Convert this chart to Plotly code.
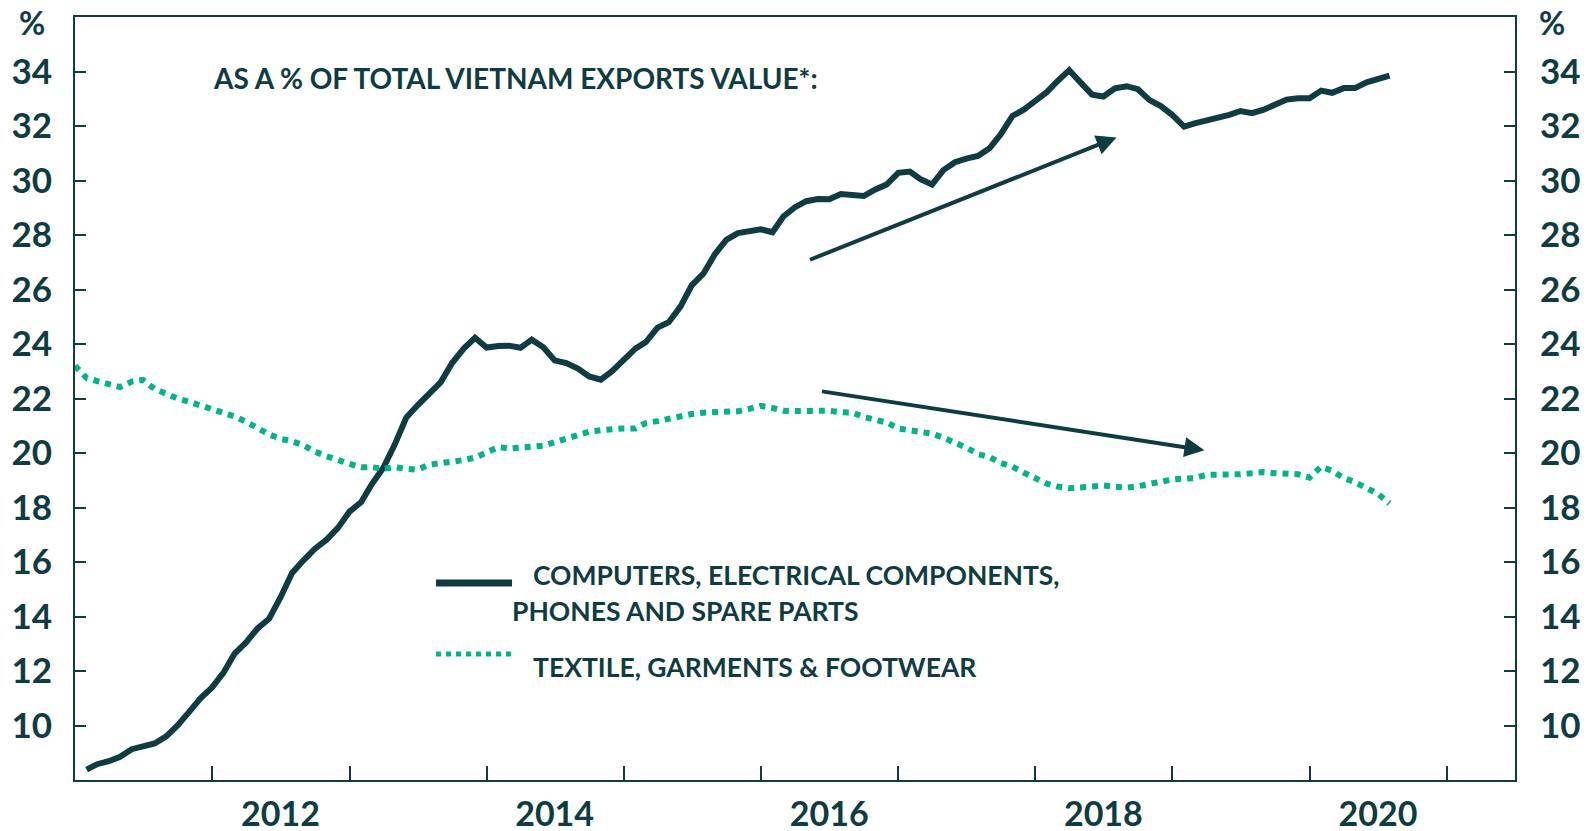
import pandas as pd
import plotly.graph_objects as go

DARK = "#0f3b42"
GREEN = "#00b388"
FONT = "Lato"

# monthly shares of total Vietnam exports value (%)
months_tech = pd.date_range("2011-02-01", "2020-08-01", freq="MS")
months_textile = pd.date_range("2011-01-01", "2020-08-01", freq="MS")

tech_share = [
    8.38, 8.58, 8.69, 8.85, 9.13, 9.26, 9.34, 9.6, 10.0, 10.5, 11.0,
    11.4, 11.95, 12.64, 13.06, 13.56, 13.92, 14.7, 15.6, 16.07, 16.49, 16.82, 17.25,
    17.85, 18.2, 18.85, 19.46, 20.3, 21.3, 21.75, 22.2, 22.6, 23.3, 23.83, 24.23,
    23.87, 23.93, 23.94, 23.86, 24.16, 23.88, 23.4, 23.3, 23.1, 22.81, 22.69, 23.0,
    23.4, 23.83, 24.07, 24.6, 24.8, 25.37, 26.15, 26.58, 27.3, 27.82, 28.07, 28.15,
    28.21, 28.1, 28.68, 29.02, 29.24, 29.32, 29.31, 29.5, 29.45, 29.43, 29.67, 29.85,
    30.28, 30.33, 30.05, 29.85, 30.38, 30.67, 30.8, 30.9, 31.18, 31.7, 32.37, 32.6,
    32.92, 33.25, 33.65, 34.05, 33.6, 33.15, 33.08, 33.38, 33.46, 33.35, 32.95, 32.73,
    32.4, 31.98, 32.1, 32.2, 32.26, 32.41, 32.55, 32.47, 32.6, 32.78, 32.97, 33.02,
    33.02, 33.3, 33.22, 33.39, 33.39, 33.6, 33.73, 33.85,
]

textile_share = [
    23.2, 22.75, 22.64, 22.55, 22.42, 22.62, 22.68, 22.35, 22.15, 22.0, 21.88, 21.75,
    21.58, 21.45, 21.34, 21.14, 20.9, 20.68, 20.52, 20.43, 20.28, 20.05, 19.88, 19.72,
    19.6, 19.48, 19.48, 19.42, 19.48, 19.42, 19.39, 19.57, 19.62, 19.67, 19.74, 19.83,
    20.0, 20.22, 20.16, 20.2, 20.22, 20.27, 20.4, 20.53, 20.67, 20.78, 20.84, 20.88,
    20.9, 20.9, 21.1, 21.17, 21.27, 21.33, 21.43, 21.48, 21.48, 21.48, 21.53, 21.62,
    21.73, 21.65, 21.55, 21.54, 21.54, 21.58, 21.55, 21.5, 21.48, 21.32, 21.2, 21.12,
    20.9, 20.83, 20.73, 20.71, 20.56, 20.38, 20.2, 19.96, 19.85, 19.63, 19.5, 19.28,
    19.1, 18.87, 18.77, 18.71, 18.73, 18.79, 18.81, 18.76, 18.73, 18.78, 18.88, 18.95,
    19.03, 19.06, 19.08, 19.2, 19.2, 19.2, 19.22, 19.26, 19.3, 19.26, 19.26, 19.22,
    19.1, 19.5, 19.35, 19.08, 18.93, 18.69, 18.5, 18.15,
]

year_ticks = [f"{y}-01-01" for y in range(2012, 2022)]
year_labels = ["2012", "2014", "2016", "2018", "2020"]
y_ticks = list(range(10, 36, 2))

x_range = ["2011-01-01", "2021-07-01"]
y_range = [8, 36]

fig = go.Figure()

fig.add_trace(go.Scatter(
    x=months_tech, y=tech_share, mode="lines",
    line=dict(color=DARK, width=6), xaxis="x", yaxis="y",
    showlegend=False, hoverinfo="skip"))

fig.add_trace(go.Scatter(
    x=months_textile, y=textile_share, mode="lines",
    line=dict(color=GREEN, width=6, dash="dot"), xaxis="x2", yaxis="y2",
    showlegend=False, hoverinfo="skip"))

axis_common = dict(showgrid=False, zeroline=False, linecolor=DARK, linewidth=2,
                   tickcolor=DARK, tickwidth=2, automargin=False,
                   tickfont=dict(family=FONT, size=35, color=DARK, weight="bold"))

# the page body adds an 8px offset, so the figure is 8px smaller than the window
fig.update_layout(
    width=1581, height=823,
    margin=dict(l=67, r=74, t=9, b=51),
    plot_bgcolor="white", paper_bgcolor="white",
    xaxis=dict(axis_common, type="date", range=x_range, tickvals=year_ticks,
               ticks="inside", ticklen=14, showticklabels=False,
               showline=True, mirror=True),
    xaxis2=dict(axis_common, type="date", range=x_range, overlaying="x",
                side="bottom", showline=False, ticks="",
                tickvals=[f"{y}-07-01" for y in year_labels], ticktext=year_labels,
                ticklabelstandoff=11,
                tickfont=dict(family=FONT, size=34, color=DARK, weight="bold")),
    yaxis=dict(axis_common, range=y_range, tickvals=y_ticks, ticks="inside",
               ticklen=11, showline=True, ticklabelstandoff=14),
    yaxis2=dict(axis_common, range=y_range, tickvals=y_ticks, ticks="inside",
                ticklen=11, showline=True, side="right", overlaying="y",
                anchor="x2", ticklabelstandoff=16),
)

txt = dict(family=FONT, size=26.5, color=DARK, weight="bold")


def note(x, y, text, xanchor="left", font=txt):
    fig.add_annotation(x=x, y=y, xref="paper", yref="paper", text=text,
                       showarrow=False, xanchor=xanchor, yanchor="middle",
                       font=font)


# unit labels
note(-0.030, 0.993, "%", "center", dict(txt, size=32))
note(1.026, 0.993, "%", "center", dict(txt, size=32))

note(0.0944, 0.920, "AS A % OF TOTAL VIETNAM EXPORTS VALUE*:", font=dict(txt, size=28))

# trend arrows
fig.add_annotation(x="2018-08-05", y=31.58, ax="2016-05-07", ay=27.07,
                   xref="x", yref="y", axref="x", ayref="y", text="",
                   showarrow=True, arrowhead=2, arrowsize=1, arrowwidth=4,
                   arrowcolor=DARK)
fig.add_annotation(x="2019-03-27", y=20.10, ax="2016-06-08", ay=22.27,
                   xref="x", yref="y", axref="x", ayref="y", text="",
                   showarrow=True, arrowhead=2, arrowsize=1, arrowwidth=4,
                   arrowcolor=DARK)

# hand-placed legend
fig.add_shape(type="line", xref="paper", yref="paper", x0=0.2507, x1=0.3035,
              y0=0.2582, y1=0.2582, line=dict(color=DARK, width=7))
fig.add_shape(type="line", xref="paper", yref="paper", x0=0.2507, x1=0.3035,
              y0=0.1651, y1=0.1651, line=dict(color=GREEN, width=5, dash="dot"))
note(0.3167, 0.2687, "COMPUTERS, ELECTRICAL COMPONENTS,")
note(0.3021, 0.2215, "PHONES AND SPARE PARTS")
note(0.3167, 0.1481, "TEXTILE, GARMENTS & FOOTWEAR")

fig.write_html("out.html")
